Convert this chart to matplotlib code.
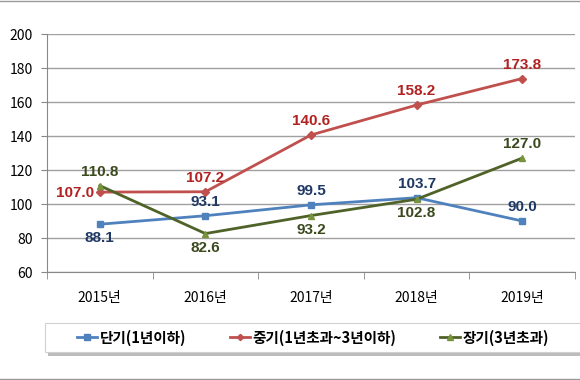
import numpy as np
import matplotlib.pyplot as plt
from matplotlib.patches import Rectangle

plt.rcParams['font.family'] = ['Noto Sans CJK KR', 'DejaVu Sans']

years = ['2015년', '2016년', '2017년', '2018년', '2019년']
short = [88.1, 93.1, 99.5, 103.7, 90.0]
mid = [107.0, 107.2, 140.6, 158.2, 173.8]
long_ = [110.8, 82.6, 93.2, 102.8, 127.0]

names = ['단기(1년이하)', '중기(1년초과~3년이하)', '장기(3년초과)']

fig = plt.figure(figsize=(5.8, 3.8), dpi=100)
ax = fig.add_axes([47 / 580, 1 - 272 / 380, 528 / 580, 238 / 380])

x = np.arange(len(years))
ax.plot(x, short, color='#4F81BD', lw=2, marker='s', ms=5, label=names[0], zorder=3)
ax.plot(x, mid, color='#C0504D', lw=2, marker='D', ms=4, label=names[1], zorder=3)
ax.plot(x, long_, color='#4F6228', lw=2, marker='^', ms=5, mfc='#77933C', mec='#77933C',
        label=names[2], zorder=3)

# where each data label sits
pos_short = ['below', 'above', 'above', 'above', 'above']
pos_mid = ['left', 'above', 'above', 'above', 'above']
pos_long = ['above', 'below', 'below', 'below', 'above']


def put_labels(vals, where, color):
    for i, v in enumerate(vals):
        if where[i] == 'above':
            off, ha, va = (0, 5), 'center', 'bottom'
        elif where[i] == 'below':
            off, ha, va = (0, -5), 'center', 'top'
        else:
            off, ha, va = (-4, -1), 'right', 'center'
        ax.annotate(f'{v:.1f}', (i, v), xytext=off, textcoords='offset points',
                    ha=ha, va=va, fontsize=11, fontweight='bold', color=color,
                    family=['Liberation Sans'], zorder=4)


put_labels(short, pos_short, '#1F3864')
put_labels(mid, pos_mid, '#B22222')
put_labels(long_, pos_long, '#3B4A1E')

ax.set_xlim(-0.5, 4.5)
ax.set_ylim(60, 200)
ax.set_yticks(np.arange(60, 201, 20))
ax.set_xticks(x)
ax.set_xticklabels(years)
ax.set_xticks(np.arange(-0.5, 4.6, 1), minor=True)
ax.tick_params(axis='x', which='major', length=0, pad=14, labelsize=10)
ax.tick_params(axis='x', which='minor', length=5, color='#888888')
ax.tick_params(axis='y', length=4, color='#888888', labelsize=10, pad=6)
ax.grid(axis='y', color='#A0A0A0', lw=1)
for s in ['top', 'right']:
    ax.spines[s].set_visible(False)
ax.spines['left'].set_color('#888888')
ax.spines['bottom'].set_color('#888888')

# legend box with shadow
bx, by, bw, bh = 45 / 580, 1 - 352 / 380, 540 / 580, 29 / 380
fig.add_artist(Rectangle((bx + 3 / 580, by - 4 / 380), bw, bh, transform=fig.transFigure,
                         facecolor='#909090', edgecolor='none', alpha=0.6, zorder=1))
fig.add_artist(Rectangle((bx, by), bw, bh, transform=fig.transFigure,
                         facecolor='white', edgecolor='#D0D0D0', lw=0.8, zorder=2))
leg = fig.legend(loc='center', bbox_to_anchor=(313 / 580, by + bh / 2), ncol=3, frameon=False,
                 prop={'size': 10.5, 'weight': 'bold'}, handlelength=1.4, handletextpad=0.15,
                 columnspacing=3.0, markerscale=0.8)
leg.set_zorder(3)

fig.add_artist(plt.Line2D([0, 1], [0.998, 0.998], color='#999999', lw=1))
fig.add_artist(plt.Line2D([0, 1], [0.003, 0.003], color='#999999', lw=1))

fig.savefig('out.png', dpi=100)
